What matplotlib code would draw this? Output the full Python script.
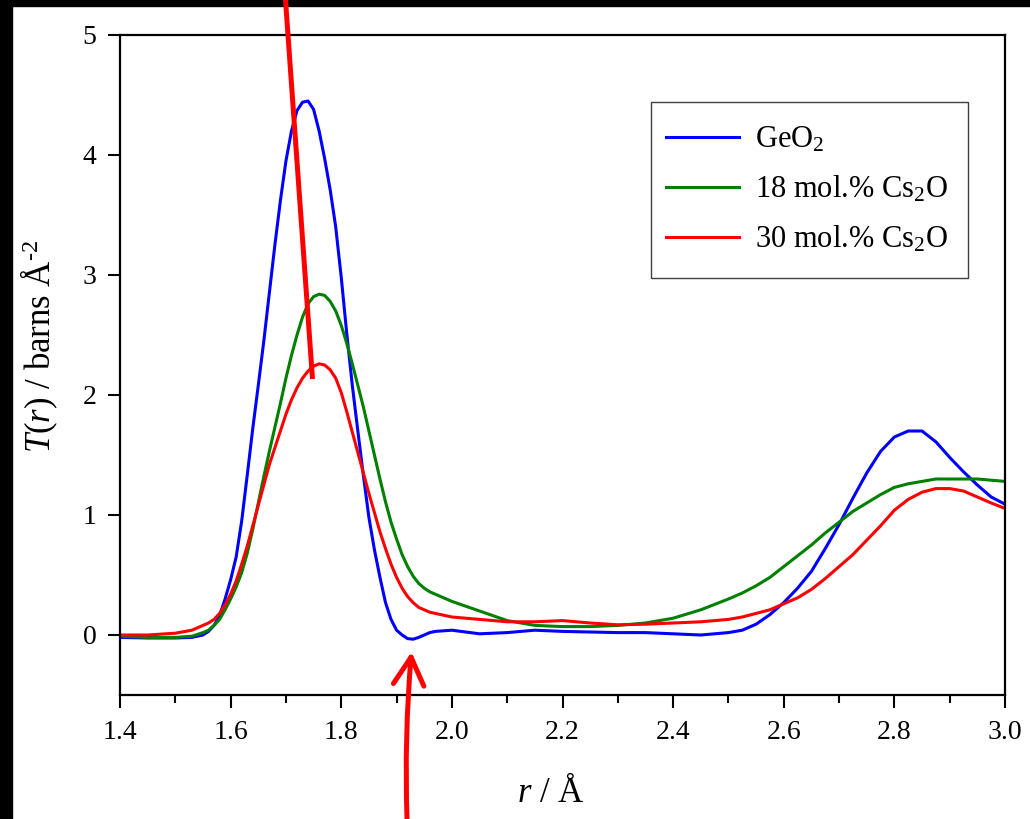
#!/usr/bin/env python3
"""Total correlation function T(r) for GeO2 and Cs2O-GeO2 glasses."""

import numpy as np
import matplotlib
matplotlib.use('Agg')
import matplotlib.pyplot as plt
from matplotlib.patches import Rectangle, FancyArrowPatch
from matplotlib.lines import Line2D
from matplotlib.ticker import MultipleLocator, FormatStrFormatter

plt.rcParams['font.family'] = ['Liberation Serif', 'DejaVu Serif']
plt.rcParams['mathtext.fontset'] = 'custom'
plt.rcParams['mathtext.rm'] = 'Liberation Serif'
plt.rcParams['mathtext.it'] = 'Liberation Serif:italic'

# r grid (Angstrom)
r = [1.40, 1.45, 1.50, 1.53,
     1.55, 1.56, 1.57, 1.58, 1.59, 1.60, 1.61, 1.62, 1.63, 1.64, 1.65, 1.66,
     1.67, 1.68, 1.69, 1.70, 1.71, 1.72, 1.73, 1.74, 1.75, 1.76, 1.77, 1.78,
     1.79, 1.80, 1.81, 1.82, 1.83, 1.84, 1.85, 1.86, 1.87, 1.88, 1.89, 1.90,
     1.91, 1.92, 1.93, 1.94, 1.95, 1.96, 1.97,
     2.00, 2.05, 2.10, 2.15, 2.20, 2.25, 2.30, 2.35, 2.40, 2.45,
     2.500, 2.525, 2.550, 2.575, 2.600, 2.625, 2.650, 2.675, 2.700, 2.725,
     2.750, 2.775, 2.800, 2.825, 2.850, 2.875, 2.900, 2.925, 2.950, 2.975, 3.000]

# T(r) in barns A^-2
t_geo2 = [-0.02, -0.025, -0.025, -0.02,
          0.00, 0.03, 0.08, 0.16, 0.30, 0.46, 0.65, 0.95, 1.33, 1.72, 2.08, 2.45,
          2.85, 3.25, 3.62, 3.95, 4.20, 4.37, 4.44, 4.45, 4.38, 4.20, 3.97, 3.71,
          3.40, 2.98, 2.51, 2.08, 1.70, 1.33, 0.98, 0.71, 0.48, 0.27, 0.13, 0.04,
          0.00, -0.03, -0.035, -0.02, 0.00, 0.02, 0.03,
          0.04, 0.01, 0.02, 0.04, 0.03, 0.025, 0.02, 0.02, 0.01, 0.0,
          0.02, 0.04, 0.09, 0.17, 0.27, 0.39, 0.53, 0.72, 0.92, 1.14,
          1.35, 1.53, 1.65, 1.70, 1.70, 1.61, 1.48, 1.36, 1.25, 1.15, 1.09]

t_cs18 = [-0.01, -0.02, -0.02, -0.01,
          0.02, 0.04, 0.08, 0.13, 0.21, 0.30, 0.40, 0.52, 0.68, 0.88, 1.10, 1.32,
          1.53, 1.73, 1.93, 2.14, 2.33, 2.50, 2.65, 2.76, 2.82, 2.84, 2.83, 2.78,
          2.70, 2.58, 2.43, 2.26, 2.08, 1.90, 1.70, 1.50, 1.30, 1.11, 0.94, 0.80,
          0.67, 0.57, 0.49, 0.43, 0.39, 0.36, 0.34,
          0.28, 0.20, 0.12, 0.08, 0.07, 0.07, 0.08, 0.10, 0.14, 0.21,
          0.30, 0.35, 0.41, 0.48, 0.57, 0.66, 0.75, 0.85, 0.94, 1.03,
          1.10, 1.17, 1.23, 1.26, 1.28, 1.30, 1.30, 1.30, 1.30, 1.29, 1.28]

t_cs30 = [0.0, 0.0, 0.015, 0.04,
          0.08, 0.10, 0.13, 0.18, 0.25, 0.34, 0.45, 0.59, 0.74, 0.91, 1.08, 1.25,
          1.42, 1.56, 1.70, 1.84, 1.96, 2.06, 2.14, 2.20, 2.24, 2.26, 2.25, 2.21,
          2.14, 2.02, 1.86, 1.69, 1.52, 1.35, 1.18, 1.02, 0.86, 0.72, 0.59, 0.48,
          0.39, 0.32, 0.27, 0.23, 0.21, 0.19, 0.18,
          0.15, 0.13, 0.11, 0.11, 0.12, 0.10, 0.085, 0.09, 0.10, 0.11,
          0.13, 0.15, 0.18, 0.21, 0.26, 0.31, 0.38, 0.47, 0.57, 0.67,
          0.79, 0.91, 1.04, 1.13, 1.19, 1.22, 1.22, 1.20, 1.15, 1.10, 1.055]

labels = ['GeO$_2$', '18 mol.% Cs$_2$O', '30 mol.% Cs$_2$O']
colors = ['#0000FF', '#008000', '#FF0000']

W, H = 1030, 819
fig = plt.figure(figsize=(W / 100, H / 100), dpi=100)
ax = fig.add_axes([120 / W, 1 - 695 / H, 885 / W, 660 / H])

for y, lab, c in zip([t_geo2, t_cs18, t_cs30], labels, colors):
    ax.plot(r, y, color=c, lw=2.2, label=lab)

ax.set_xlim(1.4, 3.0)
ax.set_ylim(-0.5, 5)
ax.xaxis.set_major_locator(MultipleLocator(0.2))
ax.xaxis.set_minor_locator(MultipleLocator(0.1))
ax.set_yticks([0, 1, 2, 3, 4, 5])
ax.xaxis.set_major_formatter(FormatStrFormatter('%.1f'))
ax.tick_params(which='major', direction='out', length=9, width=1.5,
               labelsize=20, top=False, right=False)
ax.tick_params(axis='x', which='major', pad=9)
ax.tick_params(axis='y', which='major', pad=8)
ax.tick_params(which='minor', direction='out', length=6, width=1.5,
               top=False, right=False)
for s in ax.spines.values():
    s.set_linewidth(1.6)

ax.set_xlabel('$r$ / Å', fontsize=25)
ax.set_ylabel(r'$T(r)$ / barns Å$^{\text{-2}}$', fontsize=25)
ax.xaxis.set_label_coords(0.487, -0.123)
ax.yaxis.set_label_coords(-0.068, 0.529)

# legend with square frame
fig.patches.append(Rectangle((651 / W, 1 - 278 / H), 317 / W, 176 / H,
                             transform=fig.transFigure, fill=False,
                             ec='#404040', lw=1.0, zorder=5))
fig.legend(loc='center left', bbox_to_anchor=(666 / W, 1 - 190 / H),
           frameon=False, fontsize=22, borderpad=0, borderaxespad=0,
           handlelength=2.39, handletextpad=0.52, labelspacing=0.64)

# black border strips
fig.patches.append(Rectangle((0, 0), 12 / W, 1, transform=fig.transFigure,
                             color='black', zorder=0))
fig.patches.append(Rectangle((0, 1 - 6 / H), 1, 6 / H, transform=fig.transFigure,
                             color='black', zorder=0))

# red hand-drawn marks
fig.add_artist(Line2D([285.5 / W, 312.5 / W], [1.0, 1 - 379 / H],
                      transform=fig.transFigure, color='#FF0000', lw=3.6,
                      solid_capstyle='butt', zorder=10))
fig.add_artist(FancyArrowPatch((407 / W, 0.0), (411.5 / W, 1 - 652 / H),
                               transform=fig.transFigure,
                               arrowstyle='->,head_length=2.0,head_width=1.1',
                               mutation_scale=10, color='#FF0000', lw=3.6,
                               connectionstyle='arc3,rad=-0.03',
                               shrinkA=0, shrinkB=0, zorder=10))

fig.savefig('out.png', dpi=100)
